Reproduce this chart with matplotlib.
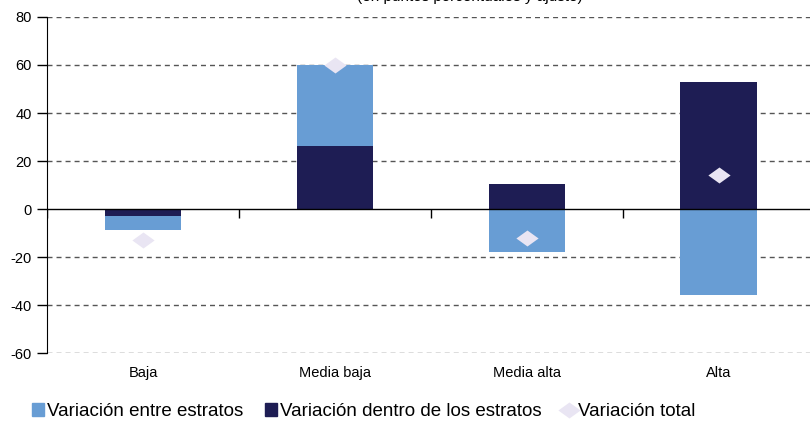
import matplotlib.pyplot as plt
from matplotlib.path import Path
from matplotlib.patches import Patch
from matplotlib.lines import Line2D

plt.rcParams['font.family'] = ['Liberation Sans', 'DejaVu Sans']
plt.rcParams['axes.unicode_minus'] = False

categorias = ['Baja', 'Media baja', 'Media alta', 'Alta']
entre = [-5.9, 33.8, -17.9, -35.8]      # variación entre estratos
dentro = [-2.9, 26.2, 10.4, 52.9]       # variación dentro de los estratos
total = [-12.9, 60.0, -12.1, 14.2]      # variación total

c_entre = '#689dd4'
c_dentro = '#1e1d54'
c_total = '#e9e5f3'

diamante = Path([(-1, 0), (0, 0.72), (1, 0), (0, -0.72), (-1, 0)],
                [Path.MOVETO, Path.LINETO, Path.LINETO, Path.LINETO, Path.CLOSEPOLY])

fig = plt.figure(figsize=(8.1, 4.23), dpi=100)
ax = fig.add_axes([0.058, 0.165, 0.948, 0.795])

x = list(range(len(categorias)))
ancho = 0.4

# base de la barra clara: se apila sobre la oscura si van en el mismo sentido
base = []
for e, d in zip(entre, dentro):
    if (e < 0) == (d < 0):
        base.append(d)
    else:
        base.append(0)

ax.bar(x, dentro, width=ancho, color=c_dentro, zorder=2)
ax.bar(x, entre, width=ancho, bottom=base, color=c_entre, zorder=2)
ax.plot(x, total, linestyle='none', marker=diamante, markersize=16,
        color=c_total, markeredgewidth=0, zorder=4)

for y in [80, 60, 40, 20, -20, -40, -60]:
    ax.axhline(y, color='#555555', lw=1, dashes=(3.6, 2.9), zorder=1)
ax.axhline(0, color='black', lw=1, zorder=3)
ax.vlines([-0.5, 0.5, 1.5, 2.5], -3.8, 0, color='black', lw=1, zorder=3)

ax.set_xlim(-0.5, 3.5)
ax.set_ylim(-60, 80)
ax.set_yticks(range(-60, 81, 20))
ax.set_xticks(x)
ax.set_xticklabels(categorias)
ax.tick_params(axis='x', length=0, pad=9, labelsize=10.5)
ax.tick_params(axis='y', length=7, width=1, direction='out', pad=4, labelsize=10.5)
for s in ['top', 'right', 'bottom']:
    ax.spines[s].set_visible(False)
ax.spines['left'].set_color('black')

# título recortado por el borde superior, como en la referencia
fig.text(0.58, 1.008, '(en puntos porcentuales y ajuste)', ha='center', va='center',
         fontsize=11)

handles = [Patch(color=c_entre, label='Variación entre estratos'),
           Patch(color=c_dentro, label='Variación dentro de los estratos'),
           Line2D([], [], linestyle='none', marker=diamante, markersize=16,
                  color=c_total, markeredgewidth=0, label='Variación total')]
fig.legend(handles=handles, loc='center left', bbox_to_anchor=(0.03, 0.027),
           ncol=3, frameon=False, fontsize=13.5, handlelength=0.65, handleheight=0.7,
           handletextpad=0.15, columnspacing=1.15, borderaxespad=0)

fig.savefig('out.png', dpi=100)
